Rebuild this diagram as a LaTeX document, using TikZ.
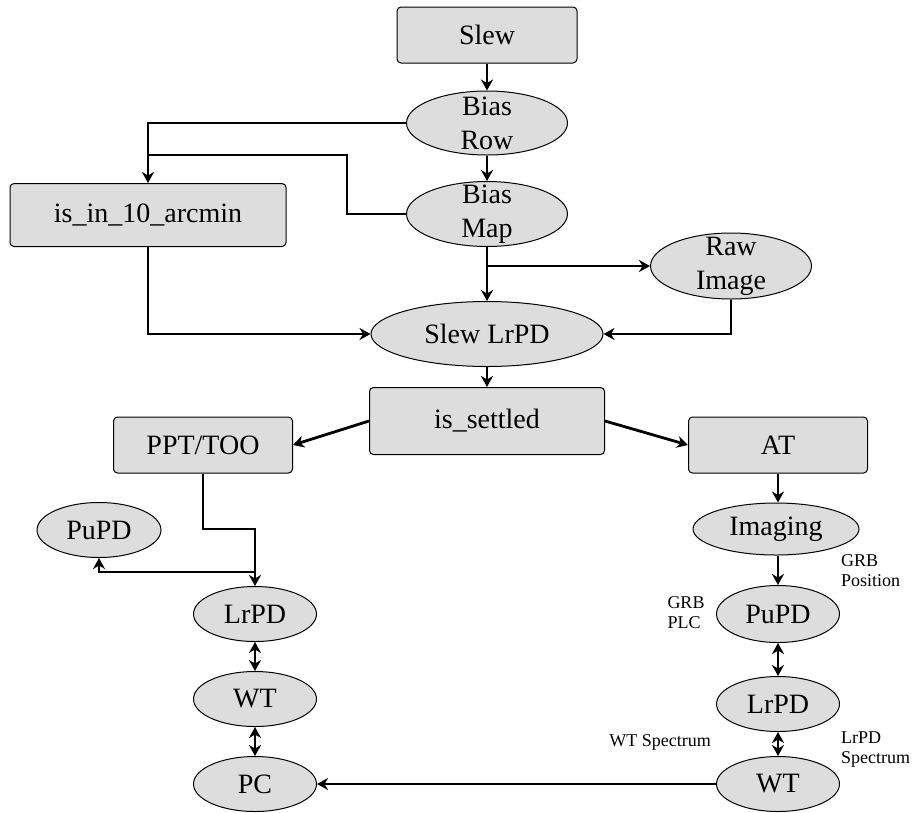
\documentclass[tikz,border=0pt]{standalone}
\usepackage{fontspec}
\setmainfont{Liberation Serif}
\usetikzlibrary{shapes.geometric,arrows.meta}
\definecolor{boxgray}{RGB}{221,221,221}

\begin{document}
\begin{tikzpicture}[x=1pt, y=-1pt,
	box/.style={draw, line width=1pt, rounded corners=4pt, fill=boxgray, inner sep=0pt, font=\fontsize{28}{34}\selectfont},
	blob/.style={draw, line width=1pt, ellipse, fill=boxgray, inner xsep=0pt, inner ysep=-9pt, align=center, font=\fontsize{28}{34}\selectfont},
	note/.style={inner sep=0pt, align=left, font=\fontsize{18}{20}\selectfont},
	flow/.style={line width=2.8pt, -{Stealth[length=11pt,width=12pt,inset=3.5pt]}},
	dflow/.style={line width=2.8pt, {Stealth[length=11pt,width=12pt,inset=3.5pt]}-{Stealth[length=11pt,width=12pt,inset=3.5pt]}}]
		
		\useasboundingbox (0,0) rectangle (915,812);
		
		\node[box, minimum width=180pt, minimum height=56pt] (S) at (487,35) {Slew};
		\node[blob, minimum width=161pt, minimum height=64pt] (BR) at (487,123) {Bias\\Row};
		\node[blob, minimum width=161pt, minimum height=65pt] (BM) at (487,214) {Bias\\Map};
		\node[box, minimum width=276pt, minimum height=63pt] (I) at (148,215) {is\_in\_10\_arcmin};
		\node[blob, minimum width=161pt, minimum height=66pt] (RI) at (731,266) {Raw\\Image};
		\node[blob, minimum width=232pt, minimum height=65pt] (SL) at (487,334) {Slew LrPD};
		\node[box, minimum width=235pt, minimum height=67pt] (IS) at (487,421) {is\_settled};
		\node (J) at (347,155) {};
		
		\draw[flow] (S) -- (BR);
		\draw[flow] (BR) -- (BM);
		\draw[flow] (BR.west) -| (I.north);
		\draw[line width=2.8pt] (BM.west) -| (J.center) -- (I.north |- J.center);
		\draw[flow] (BM) -- (SL);
		\draw[flow] (BM.south |- RI.west) -- (RI.west);
		\draw[flow] (RI.south) |- (SL.east);
		\draw[flow] (I.south) |- (SL.west);
		\draw[flow] (SL) -- (IS);
		
		\node[box, minimum width=179pt, minimum height=56pt] (P) at (203,445) {PPT/TOO};
		\node[blob, minimum width=124pt, minimum height=55pt] (PU) at (99,530) {PuPD};
		\node[blob, minimum width=123pt, minimum height=55pt] (L) at (255,614) {LrPD};
		\node[blob, minimum width=123pt, minimum height=55pt] (W) at (255,699) {WT};
		\node[blob, minimum width=123pt, minimum height=55pt] (PC) at (255,784) {PC};
		\node (K) at (255,529) {};
		\node (M) at (255,572) {};
		
		\draw[flow] (IS.west) -- (P.east);
		\draw[flow] (P.south) |- (K.center) -- (L.north);
		\draw[flow] (M.center) -| (PU.south);
		\draw[dflow] (L) -- (W);
		\draw[dflow] (W) -- (PC);
		
		\node[box, minimum width=179pt, minimum height=56pt] (AT) at (778,445) {AT};
		\node[blob, minimum width=166pt, minimum height=52pt] (IM) at (776,529) {Imaging};
		\node[blob, minimum width=123pt, minimum height=57pt] (PU') at (778,614) {PuPD};
		\node[blob, minimum width=123pt, minimum height=55pt] (L') at (778,704) {LrPD};
		\node[blob, minimum width=123pt, minimum height=55pt] (W') at (778,784) {WT};
		
		\draw[flow] (IS.east) -- (AT.west);
		\draw[flow] (AT.south) -- (AT.south |- IM.north);
		\draw[flow] (IM.south -| PU'.north) -- (PU'.north);
		\draw[dflow] (PU') -- (L');
		\draw[dflow] (L') -- (W');
		\draw[flow] (W') -- (PC);
		
		\node[note, anchor=west] (gp) at (841,571) {GRB\\Position};
		\node[note] (gl) at (686,613) {GRB\\PLC};
		\node[note] (ws) at (660,742) {WT Spectrum};
		\node[note, anchor=west] (ls) at (841,750) {LrPD\\Spectrum};
	\end{tikzpicture}
\end{document}
